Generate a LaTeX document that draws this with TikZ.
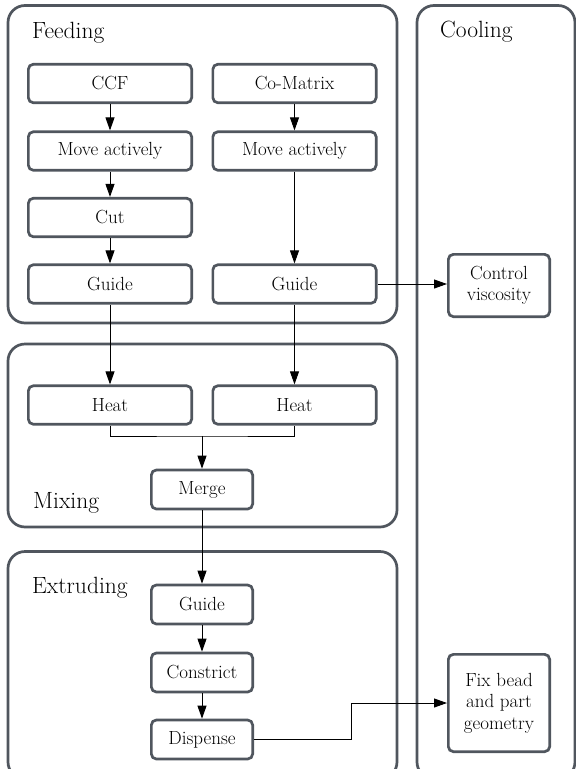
\documentclass[tikz,border=0pt]{standalone}
\usetikzlibrary{arrows.meta}
\definecolor{bordergray}{RGB}{80,86,94}
\begin{document}
\begin{tikzpicture}[x=1pt,y=-1pt,
  container/.style={draw=bordergray, line width=2.7pt, rounded corners=17pt},
  stepbox/.style={draw=bordergray, line width=2.7pt, rounded corners=5pt, fill=white, inner sep=0pt, align=center, font=\fontsize{19}{21.5}\selectfont},
  wide/.style={stepbox, minimum width=163.3pt, minimum height=38.5pt},
  narrow/.style={stepbox, minimum width=101.3pt, minimum height=39pt},
  title/.style={anchor=base west, inner sep=0pt, font=\fontsize{23.5}{26}\selectfont},
  conn/.style={line width=0.9pt, -{Triangle[length=13pt,width=9pt]}},
  plain/.style={line width=0.9pt}]
\useasboundingbox (0,0) rectangle (576,769);
\clip (0,0) rectangle (576,769);

% containers
\draw[container] (8,5.5) rectangle (397,323);
\draw[container] (8,344) rectangle (397,527);
\draw[container] (8,551.5) rectangle (397,779);
\draw[container] (417,5.5) rectangle (575,779);

% titles
\node[title] (tfeed) at (32,38) {Feeding};
\node[title] (tcool) at (440,37) {Cooling};
\node[title] (tmix) at (33,508) {Mixing};
\node[title] (text) at (32,593) {Extruding};

% feeding
\node[wide] (ccf) at (110,83.5) {CCF};
\node[wide] (comat) at (294.5,83.5) {Co-Matrix};
\node[wide] (movel) at (110,151) {Move actively};
\node[wide] (mover) at (294.5,151) {Move actively};
\node[wide] (cut) at (110,217.5) {Cut};
\node[wide] (guidel) at (110,284) {Guide};
\node[wide] (guider) at (294.5,284) {Guide};

% cooling
\node[stepbox, minimum width=101.3pt, minimum height=62.3pt] (ctrl) at (499,285.5) {Control\\viscosity};
\node[stepbox, minimum width=101.3pt, minimum height=97.3pt] (fix) at (499,703) {Fix bead\\and part\\geometry};

% mixing
\node[wide] (heatl) at (110,405) {Heat};
\node[wide] (heatr) at (294.5,405) {Heat};
\node[narrow] (merge) at (202,489.5) {Merge};

% extruding
\node[narrow] (guidee) at (202,604.5) {Guide};
\node[narrow] (constr) at (202,672.5) {Constrict};
\node[narrow] (disp) at (202,739.5) {Dispense};

% connectors
\draw[conn] (ccf) -- (movel);
\draw[conn] (movel) -- (cut);
\draw[conn] (cut) -- (guidel);
\draw[conn] (comat) -- (mover);
\draw[conn] (mover) -- (guider);
\draw[conn] (guidel) -- (heatl);
\draw[conn] (guider) -- (heatr);
\draw[conn] (guider.east) -- (ctrl.west |- guider.east);

\coordinate (join) at (202,436);
\draw[plain] (heatl.south) |- (join) -| (heatr.south);
\draw[conn] (join) -- (merge);
\draw[conn] (merge) -- (guidee);
\draw[conn] (guidee) -- (constr);
\draw[conn] (constr) -- (disp);

\coordinate (bend) at (351,739.5);
\draw[conn] (disp.east) -- (bend) |- (fix.west);
\end{tikzpicture}
\end{document}
